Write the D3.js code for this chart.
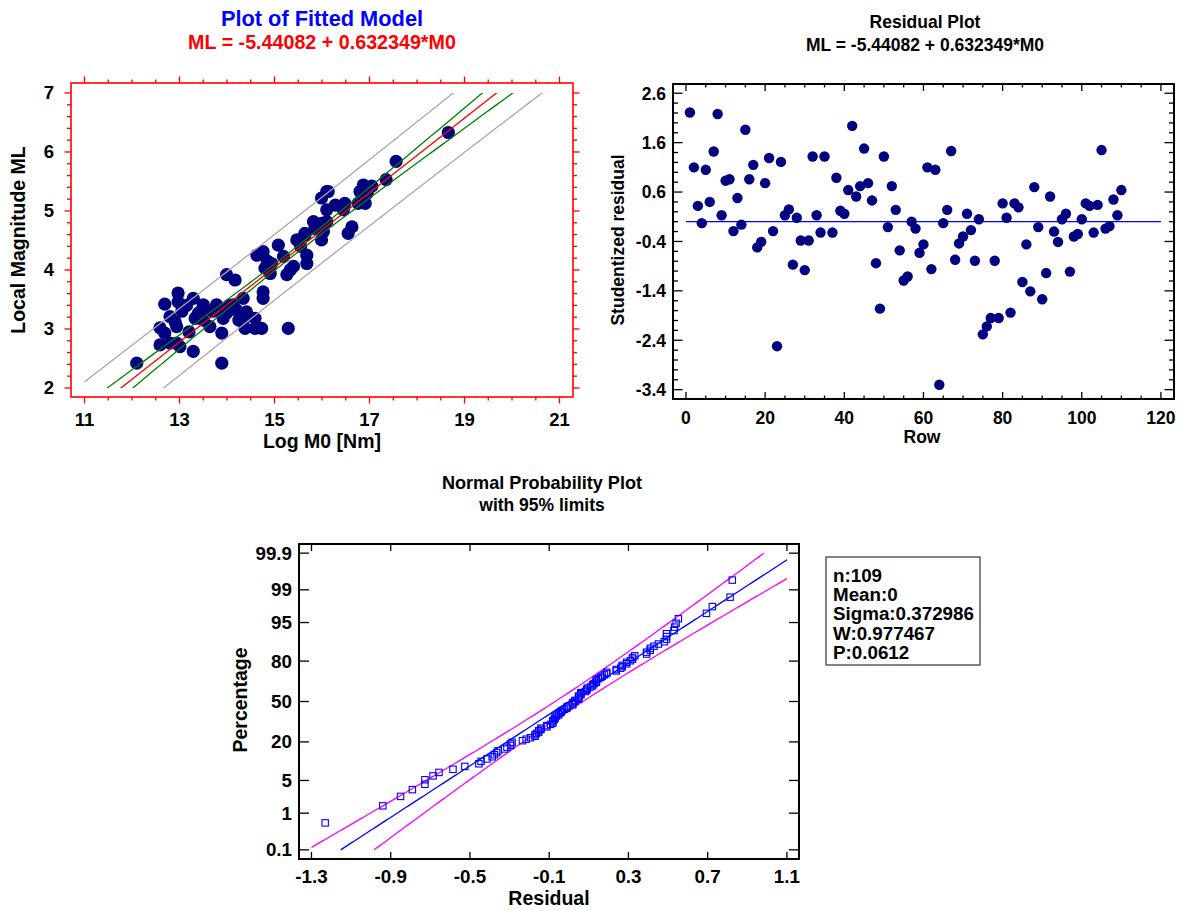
<!DOCTYPE html>
<html><head><meta charset="utf-8">
<script src="https://cdn.jsdelivr.net/npm/d3@7"></script>
<style>
body{margin:0;background:#fff}
text{font-family:"Liberation Sans",Arial,sans-serif;font-weight:bold;fill:#000}
</style></head>
<body><svg id="c" width="1183" height="911"></svg>
<script>
// ---------------- data ----------------
const fitLogM0 = [12.10,12.59,12.69,12.97,13.29,12.59,12.91,12.94,13.29,13.50,13.36,13.78,13.64,13.89,13.89,13.99,14.17,13.99,14.34,14.20,14.41,14.38,14.59,14.73,14.59,14.76,14.76,14.63,14.76,14.80,14.94,14.91,15.08,15.19,15.33,15.26,15.40,15.47,15.64,15.68,15.68,15.99,15.29,16.03,16.10,15.99,15.82,15.99,15.64,18.66,17.56,17.35,17.05,16.87,16.80,16.91,16.76,16.48,16.45,16.13,16.10,16.10,16.63,16.55,12.80,13.01,12.69,12.97,12.94,12.80,13.40,13.33,13.50,13.89,13.92,14.13,14.34,13.05,13.15,13.45,13.70,14.05,14.85,15.55,16.28,13.20,14.25,15.85,16.95];
const fitML    = [2.42,2.73,3.42,3.61,3.52,3.02,3.12,2.76,2.62,3.41,3.21,3.41,3.04,2.93,2.42,3.92,3.83,3.27,3.52,3.32,3.29,3.01,3.01,3.01,3.18,3.63,3.52,4.25,4.31,4.03,4.11,3.94,4.42,4.23,4.00,3.92,4.06,4.51,4.59,4.25,4.11,4.51,3.01,4.65,5.33,5.22,4.82,4.79,4.62,6.33,5.84,5.53,5.42,5.44,5.33,5.13,5.13,5.13,5.02,5.33,5.02,4.82,4.73,4.62,2.76,2.70,2.93,3.46,3.04,3.21,3.27,3.18,3.15,3.27,3.18,3.41,3.15,3.30,3.40,3.30,3.30,3.40,4.15,4.40,5.10,2.95,3.15,4.70,5.30];

const residRow  = [1,2,3,4,5,6,7,8,9,10,11,12,13,14,15,16,17,18,19,20,21,22,23,24,25,26,27,28,29,30,31,32,33,34,35,37,38,39,40,41,42,43,44,45,46,47,48,49,50,51,52,53,54,55,56,57,58,59,60,61,62,63,64,65,66,67,68,69,70,71,72,73,74,75,76,77,78,79,80,81,82,83,84,85,86,87,88,89,90,91,92,93,94,95,96,97,98,99,100,101,102,103,104,105,106,107,108,109,110];
const residStud = [2.21,1.10,0.32,-0.03,1.05,0.40,1.42,2.18,0.13,0.83,0.86,-0.19,0.48,-0.06,1.86,0.86,1.15,-0.52,-0.41,0.78,1.29,-0.19,-2.52,1.21,0.13,0.25,-0.87,0.08,-0.38,-0.98,-0.38,1.32,0.13,-0.22,1.32,-0.22,0.89,0.22,0.16,0.64,1.94,0.51,0.72,1.48,0.78,0.43,-0.84,-1.76,1.32,-0.11,0.72,0.24,-0.58,-1.19,-1.11,0.00,-0.14,-0.63,-0.46,1.10,-0.96,1.05,-3.30,-0.03,0.24,1.43,-0.77,-0.44,-0.30,0.16,-0.17,-0.79,0.05,-2.28,-2.12,-1.95,-0.79,-1.95,0.37,0.08,-1.84,0.37,0.29,-1.22,-0.46,-1.41,0.70,-0.11,-1.57,-1.04,0.51,-0.20,-0.41,0.05,0.16,-1.01,-0.30,-0.25,0.05,0.37,0.32,-0.22,0.34,1.45,-0.14,-0.09,0.45,0.13,0.64];

const fitIntercept = -5.44082, fitSlope = 0.632349;
const nObs = 109, residMean = 0, residSigma = 0.372986, swW = 0.977467, swP = 0.0612;
// band constants (t*s, mean of M0, Sxx)
const bandTS = 0.554, bandXbar = 15.37, bandSxx = 152;

const fitXTicks = [11,13,15,17,19,21], fitYTicks = [2,3,4,5,6,7];
const resXTicks = [0,20,40,60,80,100,120], resYTicks = [2.6,1.6,0.6,-0.4,-1.4,-2.4,-3.4];
const npXTicks = [-1.3,-0.9,-0.5,-0.1,0.3,0.7,1.1];
const npYTicks = [0.1,1,5,20,50,80,95,99,99.9];

const titles = {
  fit: "Plot of Fitted Model", fitSub: "ML = -5.44082 + 0.632349*M0",
  res: "Residual Plot", resSub: "ML = -5.44082 + 0.632349*M0",
  np: "Normal Probability Plot", npSub: "with 95% limits"
};

// ---------------- helpers ----------------
const svg = d3.select("#c");
const defs = svg.append("defs");
function invNorm(p){
  const a=[-3.969683028665376e+01,2.209460984245205e+02,-2.759285104469687e+02,1.383577518672690e+02,-3.066479806614716e+01,2.506628277459239e+00];
  const b=[-5.447609879822406e+01,1.615858368580409e+02,-1.556989798598866e+02,6.680131188771972e+01,-1.328068155288572e+01];
  const c=[-7.784894002430293e-03,-3.223964580411365e-01,-2.400758277161838e+00,-2.549732539343734e+00,4.374664141464968e+00,2.938163982698783e+00];
  const d=[7.784695709041462e-03,3.224671290700398e-01,2.445134137142996e+00,3.754408661907416e+00];
  const pl=0.02425;
  let q,r;
  if(p<pl){q=Math.sqrt(-2*Math.log(p));return (((((c[0]*q+c[1])*q+c[2])*q+c[3])*q+c[4])*q+c[5])/((((d[0]*q+d[1])*q+d[2])*q+d[3])*q+1);}
  if(p>1-pl){q=Math.sqrt(-2*Math.log(1-p));return -(((((c[0]*q+c[1])*q+c[2])*q+c[3])*q+c[4])*q+c[5])/((((d[0]*q+d[1])*q+d[2])*q+d[3])*q+1);}
  q=p-0.5;r=q*q;
  return (((((a[0]*r+a[1])*r+a[2])*r+a[3])*r+a[4])*r+a[5])*q/(((((b[0]*r+b[1])*r+b[2])*r+b[3])*r+b[4])*r+1);
}
function ticksBetween(lo,hi,step){const out=[];for(let v=Math.ceil(lo/step-1e-9)*step;v<=hi+1e-9;v+=step)out.push(+v.toFixed(6));return out;}

function drawTicks(g, opt){
  const {side,scale,values,len,out,color,box,width} = opt;
  values.forEach(v=>{
    const p = scale(v);
    let x1,y1,x2,y2;
    if(side==="bottom"){x1=x2=p;y1=box.b;y2=box.b+(out?len:-len);}
    if(side==="top"){x1=x2=p;y1=box.t;y2=box.t+(out?-len:len);}
    if(side==="left"){y1=y2=p;x1=box.l;x2=box.l+(out?-len:len);}
    if(side==="right"){y1=y2=p;x1=box.r;x2=box.r+(out?len:-len);}
    g.append("line").attr("x1",x1).attr("y1",y1).attr("x2",x2).attr("y2",y2)
      .attr("stroke",color).attr("stroke-width",width||1.3);
  });
}
function txt(g,x,y,s,size,anchor,fill){
  const t=g.append("text").attr("x",x).attr("y",y).attr("text-anchor",anchor||"middle").style("font-size",size+"px").text(s);
  if(fill) t.style("fill",fill);
  return t;
}
function vtxt(g,x,y,s,size){
  return g.append("text").attr("transform",`translate(${x},${y}) rotate(-90)`).attr("text-anchor","middle").style("font-size",size+"px").text(s);
}

// ================= Panel 1: fitted model =================
{
  const box={l:71,t:83,r:573,b:397};
  const x=d3.scaleLinear().domain([10.716,21.284]).range([box.l,box.r]);
  const y=d3.scaleLinear().domain([1.847,7.169]).range([box.b,box.t]);
  const g=svg.append("g");
  defs.append("clipPath").attr("id","clip1").append("rect")
    .attr("x",box.l).attr("y",y(7)).attr("width",box.r-box.l).attr("height",y(2)-y(7));
  const xs=d3.range(0,201).map(i=>11+i*0.05);
  const fit=v=>fitIntercept+fitSlope*v;
  const se=(v,pred)=>bandTS*Math.sqrt((pred?1:0)+1/nObs+(v-bandXbar)**2/bandSxx);
  const line=d3.line().x(d=>x(d[0])).y(d=>y(d[1]));
  g.selectAll("circle.p").data(fitLogM0.map((v,i)=>[v,fitML[i]])).enter().append("circle")
    .attr("cx",d=>x(d[0])).attr("cy",d=>y(d[1])).attr("r",6.6).attr("fill","#000080");
  const lg=g.append("g").attr("clip-path","url(#clip1)");
  const curves=[
    {f:v=>fit(v)+se(v,true),c:"#a8a8a8"},
    {f:v=>fit(v)-se(v,true),c:"#a8a8a8"},
    {f:v=>fit(v)+se(v,false),c:"#008000"},
    {f:v=>fit(v)-se(v,false),c:"#008000"},
    {f:fit,c:"#ff0000"}
  ];
  curves.forEach(cv=>{
    lg.append("path").attr("d",line(xs.map(v=>[v,cv.f(v)]))).attr("fill","none")
      .attr("stroke",cv.c).attr("stroke-width",1.3);
  });
  g.append("rect").attr("x",box.l).attr("y",box.t).attr("width",box.r-box.l).attr("height",box.b-box.t)
    .attr("fill","none").attr("stroke","#ff0000").attr("stroke-width",1.6);
  const xMinor=ticksBetween(11,21,0.5), yMinor=ticksBetween(2,7.1,0.2);
  ["bottom","top"].forEach(s=>{
    drawTicks(g,{side:s,scale:x,values:xMinor.filter(v=>!fitXTicks.includes(v)),len:3.5,out:true,color:"#ff0000",box});
    drawTicks(g,{side:s,scale:x,values:fitXTicks,len:6.5,out:true,color:"#ff0000",box});
  });
  ["left","right"].forEach(s=>{
    drawTicks(g,{side:s,scale:y,values:yMinor.filter(v=>!fitYTicks.includes(v)),len:4,out:true,color:"#ff0000",box});
    drawTicks(g,{side:s,scale:y,values:fitYTicks,len:6.5,out:true,color:"#ff0000",box});
  });
  fitXTicks.forEach(v=>txt(g,x(v),425.5,v,18.5));
  fitYTicks.forEach(v=>txt(g,54,y(v)+6.5,v,18.5,"end"));
  txt(g,322,447.5,"Log M0 [Nm]",19.5);
  vtxt(g,25,240,"Local Magnitude ML",19.5);
  txt(g,322,26,titles.fit,21.8,"middle","#0000ff");
  txt(g,322,49,titles.fitSub,19.7,"middle","#ff0000");
}

// ================= Panel 2: residual plot =================
{
  const box={l:673,t:84,r:1174,b:399};
  const x=d3.scaleLinear().domain([-3.28,123.3]).range([box.l,box.r]);
  const y=d3.scaleLinear().domain([-3.589,2.787]).range([box.b,box.t]);
  const g=svg.append("g");
  g.append("line").attr("x1",x(0)).attr("x2",x(120)).attr("y1",y(0)).attr("y2",y(0)).attr("stroke","#0000ff").attr("stroke-width",1.3);
  g.selectAll("circle").data(residRow.map((r,i)=>[r,residStud[i]])).enter().append("circle")
    .attr("cx",d=>x(d[0])).attr("cy",d=>y(d[1])).attr("r",5.2).attr("fill","#000080");
  g.append("rect").attr("x",box.l).attr("y",box.t).attr("width",box.r-box.l).attr("height",box.b-box.t)
    .attr("fill","none").attr("stroke","#000").attr("stroke-width",2);
  const xMinor=ticksBetween(0,120,5).filter(v=>!resXTicks.includes(v));
  const yMinor=ticksBetween(-3.4,2.6,0.2).filter(v=>!resYTicks.some(t=>Math.abs(t-v)<1e-6));
  ["bottom","top"].forEach(s=>{
    drawTicks(g,{side:s,scale:x,values:xMinor,len:3.5,out:false,color:"#000",box});
    drawTicks(g,{side:s,scale:x,values:resXTicks,len:7,out:false,color:"#000",box});
  });
  ["left","right"].forEach(s=>{
    drawTicks(g,{side:s,scale:y,values:yMinor,len:5,out:false,color:"#000",box});
    drawTicks(g,{side:s,scale:y,values:resYTicks,len:9.5,out:false,color:"#000",box});
  });
  resXTicks.forEach(v=>txt(g,x(v),424,v,17.5));
  resYTicks.forEach(v=>txt(g,666,y(v)+6.3,v.toFixed(1),17.5,"end"));
  txt(g,922,443,"Row",17.5);
  vtxt(g,624,240,"Studentized residual",17.5);
  txt(g,925,28,titles.res,17.5);
  txt(g,925,51,titles.resSub,17.5);
}

// ================= Panel 3: normal probability plot =================
{
  const box={l:299,t:544,r:799,b:859};
  const x=d3.scaleLinear().domain([-1.363,1.161]).range([box.l,box.r]);
  const y=d3.scaleLinear().domain([-3.281,3.281]).range([box.b,box.t]);
  const g=svg.append("g");
  defs.append("clipPath").attr("id","clip3").append("rect")
    .attr("x",x(-1.3)).attr("y",box.t).attr("width",x(1.1)-x(-1.3)).attr("height",box.b-box.t);
  const zs=d3.range(0,201).map(i=>-3.09+i*6.18/200);
  const off=z=>1.96*residSigma*Math.sqrt(1/nObs+z*z/(2*(nObs-1)));
  const line=d3.line().x(d=>x(d[0])).y(d=>y(d[1]));
  const lg=g.append("g").attr("clip-path","url(#clip3)");
  lg.append("path").attr("d",line(zs.map(z=>[residMean+residSigma*z-off(z),z]))).attr("fill","none").attr("stroke","#ff00ff").attr("stroke-width",1.3);
  lg.append("path").attr("d",line(zs.map(z=>[residMean+residSigma*z+off(z),z]))).attr("fill","none").attr("stroke","#ff00ff").attr("stroke-width",1.3);
  lg.append("path").attr("d",line(zs.map(z=>[residMean+residSigma*z,z]))).attr("fill","none").attr("stroke","#0000ff").attr("stroke-width",1.3);
  const rawResid = residStud.map(s=>s*residSigma).sort(d3.ascending);
  const pts = rawResid.map((r,i)=>[r, invNorm((i+1-0.375)/(rawResid.length+0.25))]);
  g.selectAll("rect.sq").data(pts).enter().append("rect")
    .attr("x",d=>x(d[0])-3.2).attr("y",d=>y(d[1])-3.2).attr("width",6.4).attr("height",6.4)
    .attr("fill","none").attr("stroke","#0000ff").attr("stroke-width",1.1);
  g.append("rect").attr("x",box.l).attr("y",box.t).attr("width",box.r-box.l).attr("height",box.b-box.t)
    .attr("fill","none").attr("stroke","#000").attr("stroke-width",2);
  ["bottom","top"].forEach(s=>drawTicks(g,{side:s,scale:x,values:npXTicks,len:7,out:false,color:"#000",box}));
  const yz=npYTicks.map(p=>invNorm(p/100));
  ["left","right"].forEach(s=>drawTicks(g,{side:s,scale:y,values:yz,len:10,out:false,color:"#000",box}));
  npXTicks.forEach(v=>txt(g,x(v),883,v.toFixed(1),18.8));
  npYTicks.forEach((p,i)=>txt(g,292,y(yz[i])+6.5,p,18.8,"end"));
  txt(g,549,905,"Residual",19.5);
  vtxt(g,247,700,"Percentage",19.5);
  txt(g,542,489,titles.np,18.1);
  txt(g,542,511,titles.npSub,17.5);
  g.append("rect").attr("x",826).attr("y",557).attr("width",154).attr("height",108).attr("fill","#fff").attr("stroke","#333").attr("stroke-width",1.2);
  const stats=["n:"+nObs,"Mean:"+residMean,"Sigma:"+residSigma,"W:"+swW,"P:"+swP];
  stats.forEach((s,i)=>txt(g,833,582+i*19.2,s,18.8,"start"));
}
</script></body></html>
